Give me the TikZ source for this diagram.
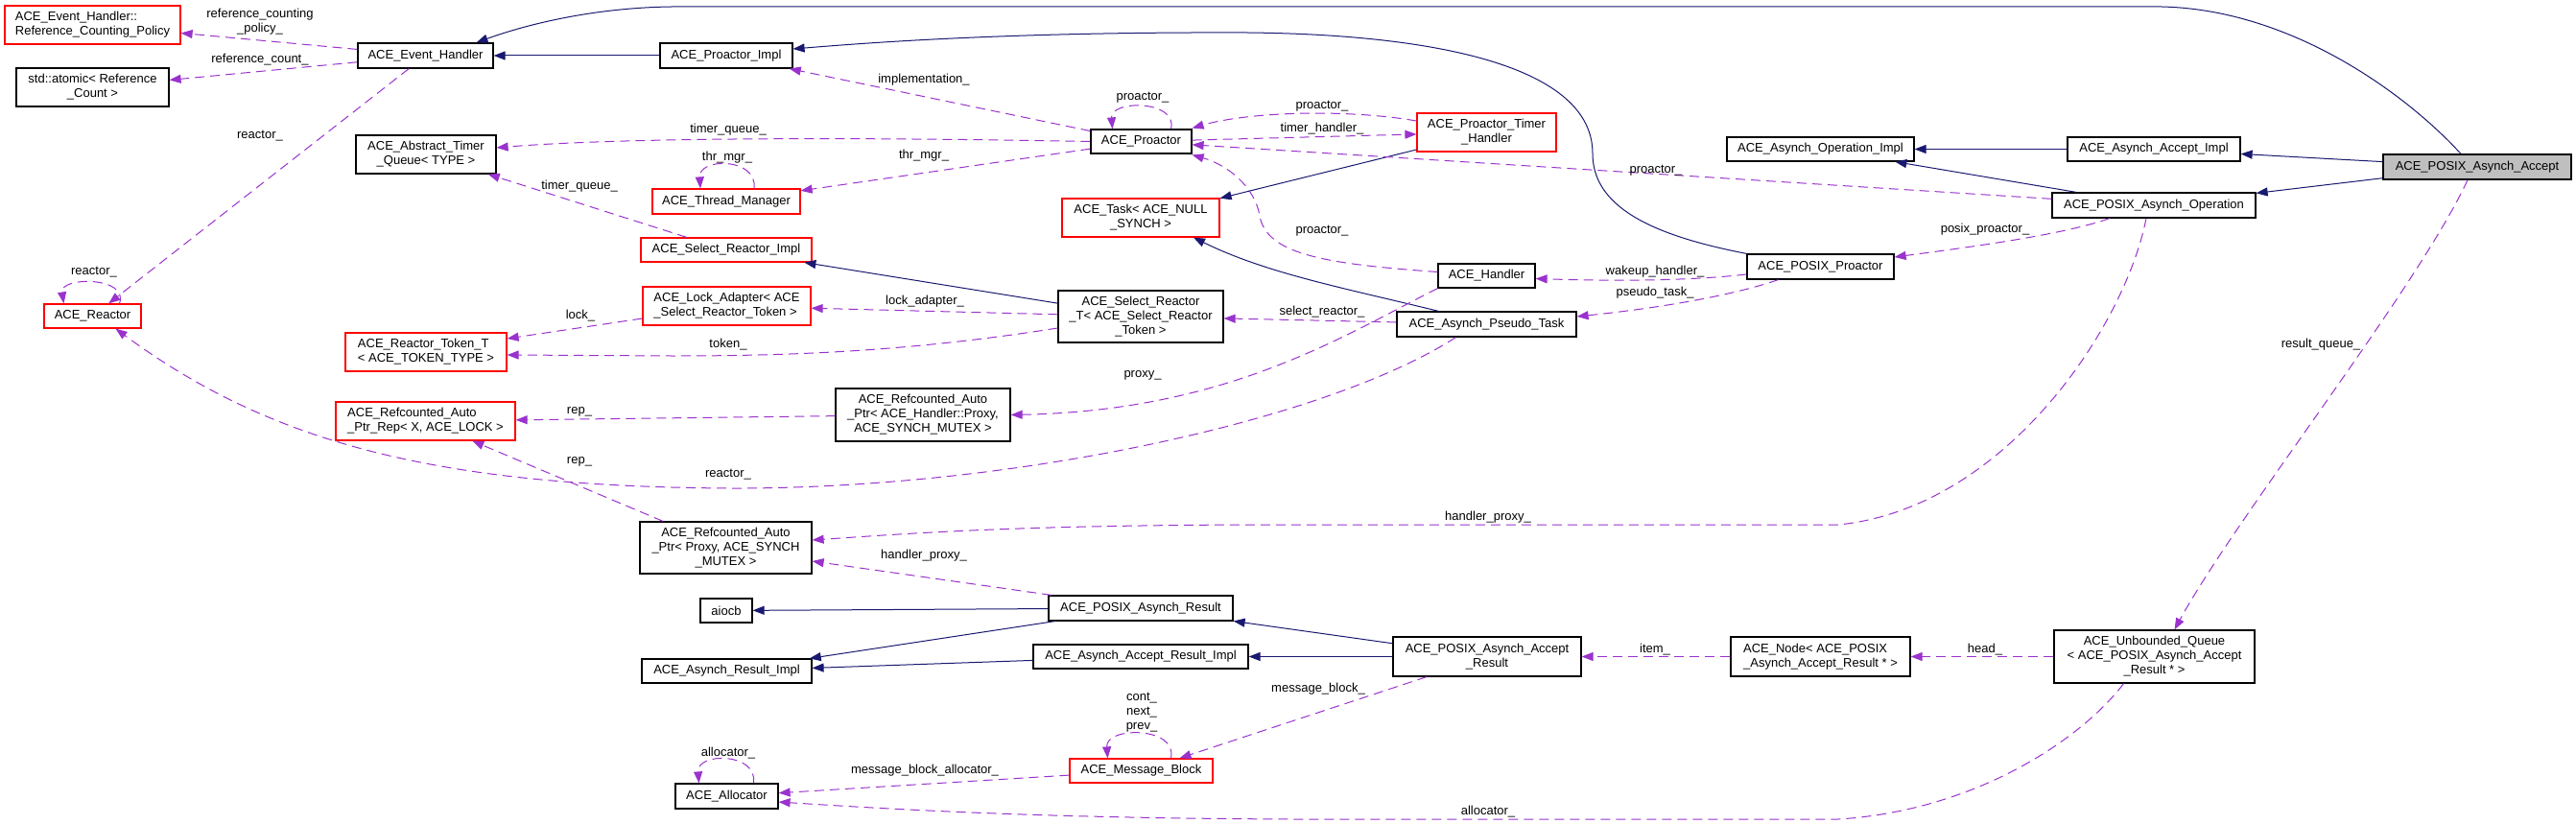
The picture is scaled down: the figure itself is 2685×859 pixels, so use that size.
\documentclass[tikz,border=0pt]{standalone}
\usepackage{fontspec}
\setmainfont{Liberation Sans}
\usetikzlibrary{arrows.meta}
\definecolor{edgeblue}{RGB}{25,25,112}
\definecolor{edgeorchid}{RGB}{154,50,205}
\definecolor{maingray}{RGB}{191,191,191}

\begin{document}
\begin{tikzpicture}[x=1pt,y=-1pt,
  box/.style={draw=black,line width=1.2pt,fill=white,inner sep=0pt,align=center,font=\fontsize{13}{15}\selectfont},
  redbox/.style={box,draw=red},
  mainbox/.style={box,fill=maingray},
  lab/.style={inner sep=0pt,align=center,font=\fontsize{13}{15}\selectfont},
  inherit/.style={draw=edgeblue,line width=1pt,-{Triangle[length=12pt,width=9pt]}},
  member/.style={draw=edgeorchid,line width=1pt,dash pattern=on 10pt off 6pt,-{Triangle[length=12pt,width=9pt]}}]
\useasboundingbox (0,0) rectangle (2685,859);
\node[redbox,align=left,minimum width=183,minimum height=40] (rcp) at (96.5,26) {ACE\_Event\_Handler::\\Reference\_Counting\_Policy};
\node[box,minimum width=141,minimum height=26] (evh) at (443.5,58) {ACE\_Event\_Handler};
\node[box,minimum width=159,minimum height=40] (atomic) at (96.5,91) {std::atomic< Reference\\\_Count >};
\node[box,minimum width=146,minimum height=40] (atq) at (444,161) {ACE\_Abstract\_Timer\\\_Queue< TYPE >};
\node[box,minimum width=138,minimum height=26] (pimpl) at (757,58) {ACE\_Proactor\_Impl};
\node[box,minimum width=105,minimum height=25] (proactor) at (1189.5,147.5) {ACE\_Proactor};
\node[redbox,minimum width=154,minimum height=26] (thrmgr) at (757,210) {ACE\_Thread\_Manager};
\node[redbox,minimum width=164,minimum height=40] (task) at (1189,227) {ACE\_Task< ACE\_NULL\\\_SYNCH >};
\node[redbox,minimum width=178,minimum height=25] (srimpl) at (757,260.5) {ACE\_Select\_Reactor\_Impl};
\node[redbox,minimum width=145,minimum height=40] (pth) at (1549.5,138) {ACE\_Proactor\_Timer\\\_Handler};
\node[box,minimum width=195,minimum height=25] (opimpl) at (1897.5,155.5) {ACE\_Asynch\_Operation\_Impl};
\node[box,minimum width=101,minimum height=25] (handler) at (1549.5,287.5) {ACE\_Handler};
\node[box,minimum width=153,minimum height=26] (pproactor) at (1897.5,278) {ACE\_POSIX\_Proactor};
\node[box,minimum width=180,minimum height=25] (acimpl) at (2245,155.5) {ACE\_Asynch\_Accept\_Impl};
\node[mainbox,minimum width=196,minimum height=26] (pacc) at (2582,174) {ACE\_POSIX\_Asynch\_Accept};
\node[box,minimum width=212,minimum height=26] (pop) at (2245,214) {ACE\_POSIX\_Asynch\_Operation};
\node[redbox,minimum width=101,minimum height=25] (reactor) at (96.5,329.5) {ACE\_Reactor};
\node[redbox,align=left,minimum width=168,minimum height=40] (rtok) at (444,367) {ACE\_Reactor\_Token\_T\\< ACE\_TOKEN\_TYPE >};
\node[redbox,align=left,minimum width=187,minimum height=40] (rep) at (443.5,439) {ACE\_Refcounted\_Auto\\\_Ptr\_Rep< X, ACE\_LOCK >};
\node[redbox,align=left,minimum width=175,minimum height=40] (lockad) at (757.5,319) {ACE\_Lock\_Adapter< ACE\\\_Select\_Reactor\_Token >};
\node[box,minimum width=172,minimum height=54] (srt) at (1189,330) {ACE\_Select\_Reactor\\\_T< ACE\_Select\_Reactor\\\_Token >};
\node[box,minimum width=182,minimum height=55] (raph) at (962,432.5) {ACE\_Refcounted\_Auto\\\_Ptr< ACE\_Handler::Proxy,\\ACE\_SYNCH\_MUTEX >};
\node[box,minimum width=179,minimum height=54] (rapp) at (756.5,571) {ACE\_Refcounted\_Auto\\\_Ptr< Proxy, ACE\_SYNCH\\\_MUTEX >};
\node[box,minimum width=187,minimum height=26] (pseudo) at (1549.5,338) {ACE\_Asynch\_Pseudo\_Task};
\node[box,minimum width=54,minimum height=25] (aiocb) at (757,636.5) {aiocb};
\node[box,minimum width=192,minimum height=26] (pres) at (1189,634) {ACE\_POSIX\_Asynch\_Result};
\node[box,minimum width=177,minimum height=25] (arimpl) at (757.5,699.5) {ACE\_Asynch\_Result\_Impl};
\node[box,minimum width=224,minimum height=25] (aarimpl) at (1189,684.5) {ACE\_Asynch\_Accept\_Result\_Impl};
\node[redbox,minimum width=149,minimum height=25] (mblock) at (1189.5,803.5) {ACE\_Message\_Block};
\node[box,minimum width=107,minimum height=26] (alloc) at (757.5,830) {ACE\_Allocator};
\node[box,minimum width=196,minimum height=41] (paccres) at (1550,684.5) {ACE\_POSIX\_Asynch\_Accept\\\_Result};
\node[box,align=left,minimum width=187,minimum height=41] (anode) at (1897.5,684.5) {ACE\_Node< ACE\_POSIX\\\_Asynch\_Accept\_Result * >};
\node[box,minimum width=209,minimum height=55] (uq) at (2245.5,684.5) {ACE\_Unbounded\_Queue\\< ACE\_POSIX\_Asynch\_Accept\\\_Result * >};
\draw[inherit] ([xshift=-17]pacc.north) .. controls (2510,100) and (2390,10) .. (2253,7) -- (700,7) .. controls (620,8) and (550,25) .. ([xshift=53]evh.north);
\draw[inherit] (pimpl) -- (evh);
\draw[inherit] (pproactor.north west) .. controls (1720,245) and (1660,215) .. (1660,160) .. controls (1660,70) and (1500,36) .. (1300,34) .. controls (1050,33) and (900,45) .. ([yshift=7]pimpl.east);
\draw[inherit] (pacc) -- (acimpl);
\draw[inherit] (acimpl) -- (opimpl);
\draw[inherit] (pacc) -- (pop);
\draw[inherit] (pop) -- (opimpl);
\draw[inherit] (pth) -- (task);
\draw[inherit] ([xshift=-50]pseudo.north) .. controls (1400,300) and (1320,285) .. ([xshift=55]task.south);
\draw[inherit] (srt) -- (srimpl);
\draw[inherit] (paccres) -- (pres);
\draw[inherit] (paccres) -- (aarimpl);
\draw[inherit] (pres) -- (aiocb);
\draw[inherit] (pres) -- (arimpl);
\draw[inherit] (aarimpl) -- (arimpl);
\draw[member] (evh) -- (rcp);
\node[lab] (lrcp) at (271,23) {reference\_counting\\\_policy\_};
\draw[member] (evh) -- (atomic);
\node[lab] (lrc) at (271,62) {reference\_count\_};
\draw[member] (evh) -- (reactor);
\node[lab] (lre1) at (271,142) {reactor\_};
\draw[member] ([xshift=28]reactor.north) .. controls (135,288) and (62,288) .. ([xshift=-30]reactor.north);
\node[lab] (lre2) at (98,284) {reactor\_};
\draw[member] (srimpl) -- (atq);
\node[lab] (ltq1) at (604,194) {timer\_queue\_};
\draw[member] (proactor) -- (pimpl);
\node[lab] (limp) at (963,83) {implementation\_};
\draw[member] ([xshift=31]proactor.north) .. controls (1228,104) and (1157,104) .. ([xshift=-30]proactor.north);
\node[lab] (lpro1) at (1191,102) {proactor\_};
\draw[member] (proactor.west) .. controls (900,143) and (650,143) .. ([yshift=7]atq.east);
\node[lab] (ltq2) at (759,135) {timer\_queue\_};
\draw[member] (proactor) -- (thrmgr);
\node[lab] (lthr2) at (963,162) {thr\_mgr\_};
\draw[member] ([xshift=29]thrmgr.north) .. controls (790,164) and (728,164) .. ([xshift=-27]thrmgr.north);
\node[lab] (lthr1) at (758,164) {thr\_mgr\_};
\draw[member] ([yshift=12]pth.west) .. controls (1400,113) and (1300,117) .. ([yshift=14]proactor.east);
\node[lab] (lpro2) at (1378,111) {proactor\_};
\draw[member] (proactor) -- (pth);
\node[lab] (lth) at (1378,134) {timer\_handler\_};
\draw[member] (pop) -- (proactor);
\node[lab] (lpro3) at (1726,178) {proactor\_};
\draw[member] ([yshift=4]handler.west) .. controls (1380,275) and (1320,265) .. (1313,225) .. controls (1308,195) and (1280,172) .. ([yshift=-14]proactor.east);
\node[lab] (lpro4) at (1378,241) {proactor\_};
\draw[member] ([yshift=-8]pproactor.west) .. controls (1760,293) and (1680,293) .. ([yshift=-3]handler.east);
\node[lab] (lwk) at (1725,283) {wakeup\_handler\_};
\draw[member] ([xshift=-46]pop.south) .. controls (2150,245) and (2050,258) .. ([yshift=10]pproactor.east);
\node[lab] (lpp) at (2069,239) {posix\_proactor\_};
\draw[member] ([xshift=-44]pproactor.south) .. controls (1800,310) and (1720,322) .. ([yshift=8]pseudo.east);
\node[lab] (lpt) at (1725,305) {pseudo\_task\_};
\draw[member] (pseudo) -- (srt);
\node[lab] (lsr) at (1378,325) {select\_reactor\_};
\draw[member] (srt) -- (lockad);
\node[lab] (lla) at (964,314) {lock\_adapter\_};
\draw[member] ([yshift=-12]srt.west) .. controls (950,366) and (830,371) .. (700,371) -- ([yshift=-3]rtok.east);
\node[lab] (ltk) at (759,359) {token\_};
\draw[member] ([yshift=-13]lockad.west) -- ([yshift=14]rtok.east);
\node[lab] (llk) at (605,329) {lock\_};
\draw[member] (raph) -- (rep);
\node[lab] (lrep1) at (604,429) {rep\_};
\draw[member] (rapp) -- (rep);
\node[lab] (lrep2) at (604,481) {rep\_};
\draw[member] (handler.south west) .. controls (1400,350) and (1280,428) .. (raph.east);
\node[lab] (lpx) at (1191,391) {proxy\_};
\draw[member] ([xshift=-32]pseudo.south) .. controls (1380,440) and (1050,510) .. (760,509) .. controls (450,507) and (280,460) .. ([xshift=24]reactor.south);
\node[lab] (lre3) at (759,495) {reactor\_};
\draw[member] ([xshift=-8]pop.south) .. controls (2215,340) and (2090,530) .. (1916,547) -- (1300,547) .. controls (1050,548) and (950,556) .. ([yshift=8]rapp.east);
\node[lab] (lhp1) at (1551,539) {handler\_proxy\_};
\draw[member] ([xshift=-93]pres.north) -- ([yshift=-14]rapp.east);
\node[lab] (lhp2) at (963,579) {handler\_proxy\_};
\draw[member] ([xshift=-10]pacc.south) .. controls (2520,300) and (2330,540) .. ([xshift=21]uq.north);
\node[lab] (lrq) at (2419,359) {result\_queue\_};
\draw[member] (anode) -- (paccres);
\node[lab] (lit) at (1725,677) {item\_};
\draw[member] (uq) -- (anode);
\node[lab] (lhd) at (2069,677) {head\_};
\draw[member] ([xshift=-63]paccres.south) -- ([xshift=40]mblock.north);
\node[lab] (lmb) at (1374,718) {message\_block\_};
\draw[member] ([xshift=31]mblock.north) .. controls (1228,757) and (1152,757) .. ([xshift=-35]mblock.north);
\node[lab] (lcnp) at (1190,743) {cont\_\\next\_\\prev\_};
\draw[member] (mblock) -- (alloc);
\node[lab] (lmba) at (964,803) {message\_block\_allocator\_};
\draw[member] ([xshift=28]alloc.north) .. controls (790,784) and (726,784) .. ([xshift=-29]alloc.north);
\node[lab] (lal1) at (759,785) {allocator\_};
\draw[member] ([xshift=-32]uq.south) .. controls (2170,770) and (2060,845) .. (1916,854) -- (1350,854) .. controls (1100,853) and (950,845) .. ([yshift=-6]alloc.east);
\node[lab] (lal2) at (1551,846) {allocator\_};
\end{tikzpicture}
\end{document}
